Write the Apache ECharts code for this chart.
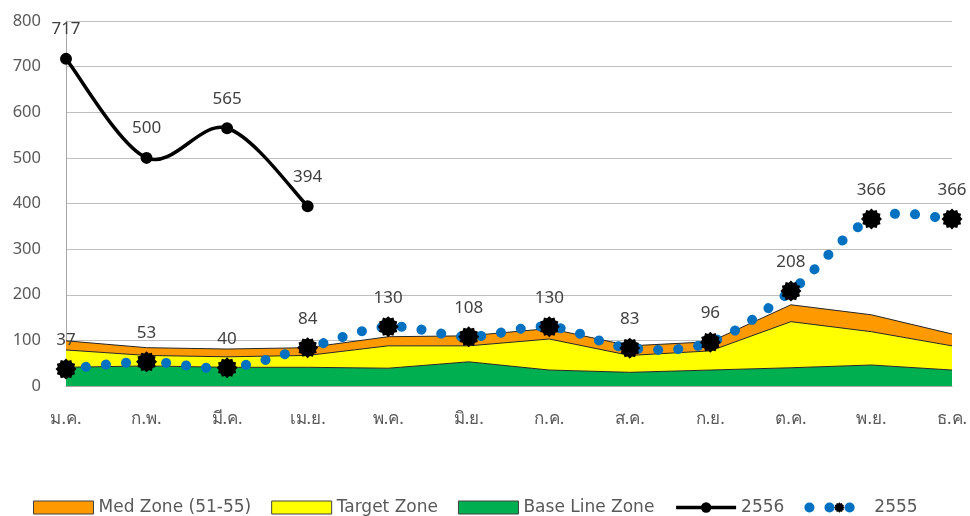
<!DOCTYPE html>
<html>
<head>
<meta charset="utf-8">
<style>
  html, body { margin: 0; padding: 0; background: #fff; }
  #chart { width: 970px; height: 516px; }
</style>
<script src="https://cdn.jsdelivr.net/npm/echarts@6/dist/echarts.min.js"></script>
</head>
<body>
<div id="chart"></div>
<script>
// Months (Thai abbreviations)
const months = ['ม.ค.', 'ก.พ.', 'มี.ค.', 'เม.ย.', 'พ.ค.', 'มิ.ย.', 'ก.ค.', 'ส.ค.', 'ก.ย.', 'ต.ค.', 'พ.ย.', 'ธ.ค.'];
// Zone bands (stacked): base line, target band on top of it, med band on top of that
const baseLineZone = [41, 44, 41, 41, 39, 53, 35, 30, 35, 40, 46, 35];
const targetZone = [38, 23, 23, 26, 49, 35, 68, 37, 42, 101, 73, 53];
const medZone = [20, 17, 17, 17, 20, 22, 23, 21, 20, 37, 37, 26];
// Yearly values
const year2556 = [717, 500, 565, 394];
const year2555 = [37, 53, 40, 84, 130, 108, 130, 83, 96, 208, 366, 366];
const yTicks = { min: 0, max: 800, interval: 100 };

const FONT = '"Noto Sans", "DejaVu Sans", sans-serif';
const LEGEND_FONT = '"DejaVu Sans", "Noto Sans", sans-serif';
const TEXT = '#595959';
const BLUE = '#0070C0';

// Spiky burst marker
function burstPath(points, rOut, rIn) {
  let d = '';
  for (let i = 0; i < points * 2; i++) {
    const r = i % 2 === 0 ? rOut : rIn;
    const a = (Math.PI * i) / points - Math.PI / 2;
    const x = (50 + r * Math.cos(a)).toFixed(2);
    const y = (50 + r * Math.sin(a)).toFixed(2);
    d += (i === 0 ? 'M' : 'L') + x + ' ' + y + ' ';
  }
  return 'path://' + d + 'Z';
}
const burst = burstPath(12, 50, 41);

// Catmull-Rom style smoothed path through pixel points (allows gentle overshoot)
function smoothPath(pts) {
  let d = 'M' + pts[0][0] + ' ' + pts[0][1];
  for (let i = 0; i < pts.length - 1; i++) {
    const p0 = pts[Math.max(i - 1, 0)];
    const p1 = pts[i];
    const p2 = pts[i + 1];
    const p3 = pts[Math.min(i + 2, pts.length - 1)];
    const c1x = p1[0] + (p2[0] - p0[0]) / 6;
    const c1y = p1[1] + (p2[1] - p0[1]) / 6;
    const c2x = p2[0] - (p3[0] - p1[0]) / 6;
    const c2y = p2[1] - (p3[1] - p1[1]) / 6;
    d += ' C' + c1x + ' ' + c1y + ' ' + c2x + ' ' + c2y + ' ' + p2[0] + ' ' + p2[1];
  }
  return d;
}

// Custom series that draws the whole curve once, positioned through the axes
function curveSeries(values, style, z) {
  return {
    type: 'custom', coordinateSystem: 'cartesian2d', z, silent: true,
    data: values.map((v, i) => [i, v]),
    encode: { x: 0, y: 1 },
    renderItem(params, api) {
      if (params.dataIndex !== 0) return null;
      const pts = values.map((v, i) => api.coord([i, v]));
      return {
        type: 'path',
        shape: { pathData: smoothPath(pts) },
        style: Object.assign({ fill: null }, style)
      };
    }
  };
}

const zoneSeries = (name, data, color) => ({
  name, type: 'line', stack: 'zone', data,
  symbol: 'none', smooth: false, z: 1,
  lineStyle: { color: '#262626', width: 1 },
  itemStyle: { color },
  areaStyle: { color, opacity: 1 },
  emphasis: { disabled: true }
});

const valueLabel = (distance) => ({
  show: true, position: 'top', distance,
  color: '#404040', fontSize: 17, fontFamily: FONT
});

const chart = echarts.init(document.getElementById('chart'), null, { renderer: 'canvas' });
chart.setOption({
  animation: false,
  backgroundColor: '#fff',
  textStyle: { fontFamily: FONT },
  grid: { left: 66, right: 18, top: 21, bottom: 130, containLabel: false, outerBoundsMode: 'none' },
  legend: {
    left: 33, top: 499, padding: 0,
    itemWidth: 60, itemHeight: 13, itemGap: 20,
    textStyle: { fontSize: 17, color: TEXT, fontFamily: LEGEND_FONT },
    data: [
      { name: 'Med Zone (51-55)', icon: 'rect', itemStyle: { color: '#FF9900', borderColor: '#404040', borderWidth: 1 } },
      { name: 'Target Zone', icon: 'rect', itemStyle: { color: '#FFFF00', borderColor: '#404040', borderWidth: 1 } },
      { name: 'Base Line Zone', icon: 'rect', itemStyle: { color: '#00B050', borderColor: '#404040', borderWidth: 1 } },
      { name: '2556', lineStyle: { color: '#000', width: 3.5, opacity: 1 } },
      { name: '2555', lineStyle: { color: BLUE, width: 10, type: [0.1, 20], cap: 'round', opacity: 1 } }
    ]
  },
  xAxis: {
    type: 'category', data: months, boundaryGap: false,
    axisLine: { lineStyle: { color: '#a6a6a6', width: 1 } },
    axisTick: { show: false },
    axisLabel: { color: TEXT, fontSize: 17, margin: 25, fontFamily: FONT },
    splitLine: { show: false }
  },
  yAxis: {
    type: 'value', min: yTicks.min, max: yTicks.max, interval: yTicks.interval,
    axisLine: { show: true, lineStyle: { color: '#a6a6a6', width: 1 } },
    axisTick: { show: false },
    axisLabel: { color: TEXT, fontSize: 16.5, margin: 25, fontFamily: FONT },
    splitLine: { lineStyle: { color: '#bfbfbf', width: 1 } }
  },
  series: [
    zoneSeries('Base Line Zone', baseLineZone, '#00B050'),
    zoneSeries('Target Zone', targetZone, '#FFFF00'),
    zoneSeries('Med Zone (51-55)', medZone, '#FF9900'),
    curveSeries(year2555, { stroke: BLUE, lineWidth: 10, lineDash: [0.1, 20], lineCap: 'round' }, 3),
    {
      name: '2555', type: 'line', data: year2555, z: 4,
      symbol: burst, symbolSize: 21,
      itemStyle: { color: '#000' },
      lineStyle: { opacity: 0, width: 0 },
      label: valueLabel(10),
      emphasis: { disabled: true }
    },
    curveSeries(year2556, { stroke: '#000', lineWidth: 3.5, lineCap: 'round', lineJoin: 'round' }, 5),
    {
      name: '2556', type: 'line', data: year2556, z: 6,
      symbol: 'circle', symbolSize: 12,
      itemStyle: { color: '#000' },
      lineStyle: { opacity: 0, width: 0 },
      label: valueLabel(15),
      emphasis: { disabled: true }
    }
  ]
});
</script>
</body>
</html>
